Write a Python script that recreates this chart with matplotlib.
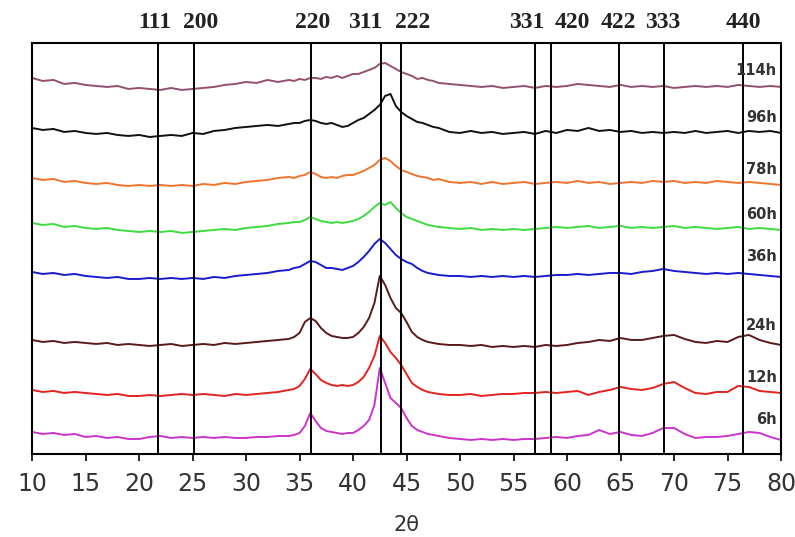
import matplotlib.pyplot as plt

# 2-theta grid (coarse away from the peaks, finer around 34-48)
twotheta = list(range(10, 35)) + [34.5 + 0.5 * i for i in range(28)] + list(range(49, 81))

# stacked intensities (a.u.)
i_114h = [376, 373, 374, 370, 371, 369, 368, 367, 368, 365, 366, 365, 364, 366, 364, 365, 366, 367, 369, 370, 372, 371, 374, 372, 374,
          373, 375, 374, 376, 376, 375, 377, 376, 378, 376, 378, 380, 380, 382, 384, 386, 390, 391, 388, 385, 382, 380, 378, 375, 376, 374, 373, 371,
          370, 369, 368, 367, 368, 366, 367, 368, 366, 368, 367, 368, 370, 369, 368, 367, 369, 367, 368, 367, 368, 366, 367, 368, 367, 368, 367, 369, 368, 367, 368, 367]
i_96h = [326, 324, 325, 322, 323, 321, 320, 321, 319, 318, 319, 317, 318, 319, 318, 321, 320, 323, 324, 326, 327, 328, 329, 328, 330,
         331, 331, 333, 334, 333, 331, 330, 331, 329, 327, 328, 331, 334, 336, 340, 344, 349, 358, 360, 348, 342, 338, 335, 332, 331, 329, 327, 326,
         322, 321, 323, 321, 322, 320, 321, 322, 320, 323, 321, 324, 323, 326, 323, 324, 322, 323, 321, 322, 321, 322, 321, 323, 321, 322, 323, 321, 323, 322, 323, 321]
i_78h = [276, 274, 275, 272, 273, 271, 270, 271, 269, 268, 269, 268, 269, 268, 269, 268, 270, 269, 271, 270, 272, 273, 274, 276, 277,
         276, 278, 279, 282, 280, 277, 276, 277, 276, 278, 279, 279, 281, 283, 286, 289, 294, 296, 293, 288, 284, 282, 280, 278, 277, 276, 274, 275,
         272, 271, 272, 270, 272, 270, 271, 272, 270, 271, 272, 271, 273, 271, 272, 270, 271, 272, 271, 273, 272, 273, 271, 272, 271, 273, 272, 271, 272, 271, 270, 269]
i_60h = [231, 229, 230, 227, 228, 226, 225, 226, 224, 223, 222, 223, 222, 223, 221, 222, 223, 224, 225, 224, 226, 227, 228, 230, 231,
         232, 232, 234, 237, 235, 233, 232, 231, 232, 231, 232, 233, 235, 238, 242, 247, 251, 249, 252, 246, 241, 237, 235, 233, 231, 229, 228, 227,
         226, 225, 226, 224, 225, 224, 225, 224, 225, 226, 227, 226, 227, 228, 226, 227, 228, 226, 227, 226, 227, 228, 226, 227, 226, 225, 226, 227, 225, 226, 225, 224]
i_36h = [182, 180, 181, 179, 180, 178, 177, 176, 177, 175, 175, 176, 175, 176, 175, 176, 175, 177, 176, 178, 179, 180, 181, 183, 184,
         186, 187, 190, 193, 192, 189, 186, 186, 185, 184, 186, 188, 192, 197, 203, 210, 215, 211, 205, 199, 195, 192, 190, 186, 183, 181, 180, 179,
         178, 178, 177, 178, 177, 178, 177, 178, 177, 178, 179, 179, 180, 179, 180, 181, 181, 180, 182, 183, 185, 183, 182, 181, 180, 181, 180, 181, 180, 179, 178, 177]
i_24h = [114, 112, 113, 111, 112, 111, 110, 111, 109, 110, 109, 108, 109, 110, 108, 109, 110, 109, 111, 110, 111, 112, 113, 114, 115,
         117, 121, 132, 136, 133, 126, 121, 118, 117, 116, 116, 117, 121, 127, 136, 151, 178, 169, 156, 146, 141, 132, 122, 117, 114, 112, 111, 110,
         109, 109, 108, 109, 107, 108, 107, 108, 107, 109, 108, 109, 111, 112, 114, 113, 116, 114, 114, 116, 118, 119, 115, 112, 111, 113, 112, 117, 119, 114, 111, 109]
i_12h = [64, 62, 63, 61, 62, 61, 60, 59, 60, 58, 58, 59, 58, 59, 60, 59, 60, 59, 58, 60, 59, 60, 61, 62, 64,
         65, 68, 75, 85, 80, 74, 71, 69, 68, 69, 68, 69, 72, 77, 86, 98, 118, 111, 102, 96, 89, 80, 71, 67, 64, 62, 61, 60,
         59, 59, 60, 58, 59, 60, 60, 61, 61, 62, 61, 62, 63, 59, 62, 64, 67, 65, 64, 66, 70, 72, 66, 61, 60, 62, 62, 68, 67, 63, 62, 61]
i_6h = [22, 20, 21, 19, 20, 17, 18, 16, 17, 15, 15, 17, 18, 16, 17, 16, 17, 16, 17, 16, 16, 17, 17, 18, 18,
        19, 21, 28, 41, 33, 26, 23, 22, 21, 20, 21, 21, 24, 28, 34, 49, 86, 71, 56, 51, 46, 36, 28, 24, 22, 20, 19, 18,
        16, 15, 14, 15, 14, 15, 14, 15, 15, 16, 17, 16, 18, 19, 24, 20, 22, 19, 18, 21, 26, 26, 20, 16, 17, 17, 18, 20, 22, 21, 17, 14]

times = ["114h", "96h", "78h", "60h", "36h", "24h", "12h", "6h"]
patterns = [i_114h, i_96h, i_78h, i_60h, i_36h, i_24h, i_12h, i_6h]
colors = ["#94506f", "#111111", "#f0742e", "#3edc3e", "#1a1ad0", "#5a1a1a", "#e3231f", "#cc33cc"]
label_lift = [12, 11, 11, 11, 15, 14, 11, 15]  # points above the curve end

# reflection positions (2theta) and Miller indices
hkl = ["111", "200", "220", "311", "222", "331", "420", "422", "333", "440"]
hkl_pos = [21.8, 25.15, 36.1, 42.6, 44.5, 57.0, 58.5, 64.85, 69.1, 76.45]
hkl_shift = [-0.3, 0.6, 0.1, -1.5, 1.1, -0.8, 2.0, -0.1, -0.2, 0.0]

fig = plt.figure(figsize=(7.95, 5.37), dpi=100)
ax = fig.add_axes([0.0403, 0.1546, 0.9421, 0.7654])

for x in hkl_pos:
    ax.axvline(x, color="black", lw=1.4, zorder=3)

for y, c in zip(patterns, colors):
    ax.plot(twotheta, y, color=c, lw=1.4, zorder=2)

for t, y, lift in zip(times, patterns, label_lift):
    ax.annotate(t, (80, y[-1]), xytext=(-3, lift), textcoords="offset points",
                ha="right", va="center", fontsize=10.5, fontweight="bold",
                color="#333333", zorder=4)

for lab, x, dx in zip(hkl, hkl_pos, hkl_shift):
    ax.text(x + dx, 1.05, lab, transform=ax.get_xaxis_transform(),
            ha="center", va="center", fontsize=17, fontweight="bold",
            family="Liberation Serif", color="#222222")

ax.set_xlim(10, 80)
ax.set_ylim(0, 411)
ax.set_xticks(range(10, 81, 5))
ax.set_yticks([])
ax.tick_params(axis="x", direction="out", length=5, width=1.2, pad=8,
               labelsize=17, labelcolor="#333333")
for s in ax.spines.values():
    s.set_linewidth(1.5)
ax.set_xlabel("2θ", fontsize=15, color="#333333", labelpad=14)

fig.savefig("out.png", dpi=100)
